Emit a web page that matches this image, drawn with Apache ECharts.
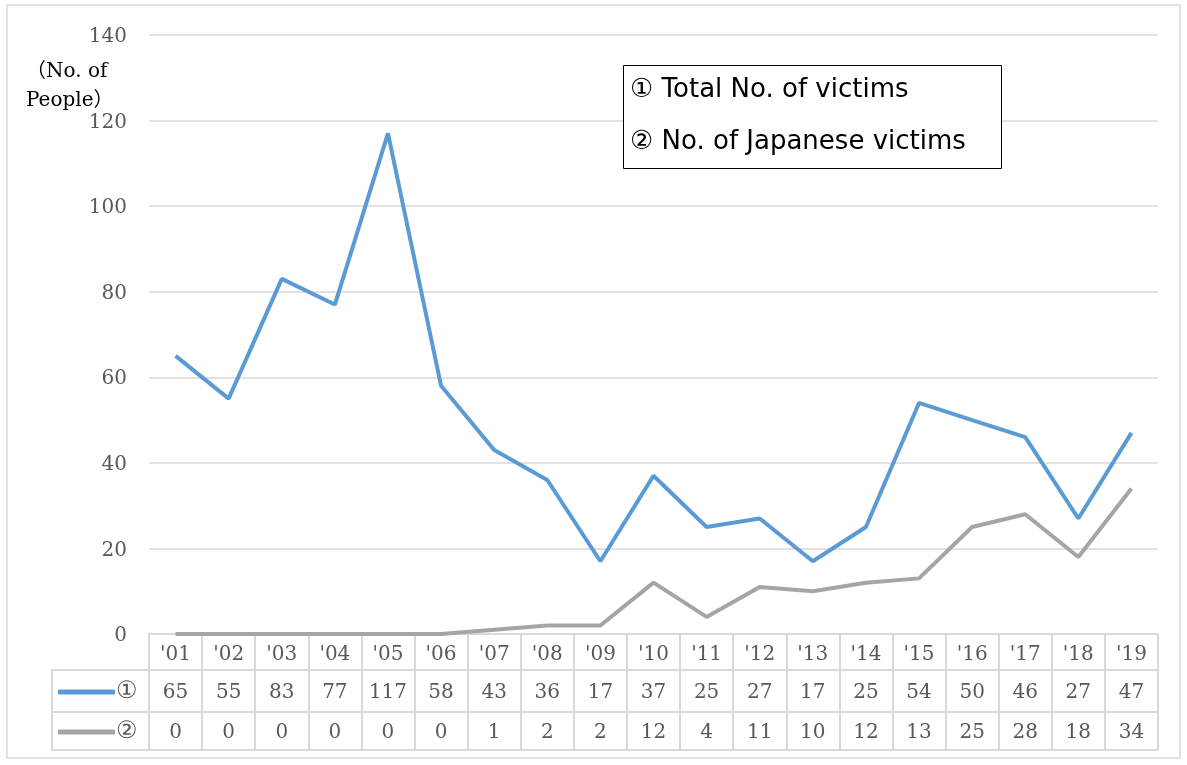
<!DOCTYPE html>
<html><head><meta charset="utf-8">
<script src="https://cdn.jsdelivr.net/npm/echarts@6/dist/echarts.min.js"></script>
<style>html,body{margin:0;padding:0;background:#fff}#c{width:1187px;height:765px}</style>
</head><body><div id="c"></div>
<script>
const years = ["'01","'02","'03","'04","'05","'06","'07","'08","'09","'10","'11","'12","'13","'14","'15","'16","'17","'18","'19"];
const totalVictims = [65,55,83,77,117,58,43,36,17,37,25,27,17,25,54,50,46,27,47];
const japaneseVictims = [0,0,0,0,0,0,1,2,2,12,4,11,10,12,13,25,28,18,34];
const seriesKeys = ['①','②'];
const legendLines = ['① Total No. of victims','② No. of Japanese victims'];
const yTicks = {min:0,max:140,interval:20};

const serif = "'DejaVu Serif','Liberation Serif',serif";
const gridCol = '#d9d9d9';
const txtCol = '#595959';
const chart = echarts.init(document.getElementById('c'));

function rowAxis(data, offset, margin, showLabels){
  return {
    type:'category', data:data, position:'bottom', offset:offset, gridIndex:0,
    axisLine:{show:true, lineStyle:{color:gridCol, width:2}},
    axisTick:{show:false},
    axisLabel:{show:showLabels, margin:margin, interval:0, fontFamily:serif, fontSize:20, color:txtCol},
    splitLine:{show:false}
  };
}

chart.setOption({
  animation:false,
  grid:{left:149, right:29, top:35, bottom:131, containLabel:false},
  xAxis:[
    {type:'category', data:years, boundaryGap:true,
     axisLine:{show:true, lineStyle:{color:gridCol, width:2}},
     axisTick:{show:true, length:116, alignWithLabel:false, interval:0, lineStyle:{color:gridCol, width:2}},
     axisLabel:{margin:11, interval:0, fontFamily:serif, fontSize:20, color:txtCol}},
    rowAxis(totalVictims.map(String), 36, 13, true),
    rowAxis(japaneseVictims.map(String), 78, 11, true),
    rowAxis(years, 116, 0, false)
  ],
  yAxis:{type:'value', min:yTicks.min, max:yTicks.max, interval:yTicks.interval,
    axisLine:{show:false}, axisTick:{show:false},
    axisLabel:{margin:22, formatter:v => '{t|' + v + '}',
      rich:{t:{fontFamily:serif, fontSize:20, color:txtCol, padding:[4,0,0,0]}}},
    splitLine:{lineStyle:{color:gridCol, width:1.5}}},
  legend:{orient:'vertical', left:58, top:680, padding:0, itemGap:16,
    itemWidth:57, itemHeight:5, icon:'roundRect', itemStyle:{borderWidth:0},
    textStyle:{fontFamily:serif, fontSize:24, color:txtCol, padding:[0,0,0,-4]},
    data:seriesKeys},
  series:[
    {name:seriesKeys[0], type:'line', data:totalVictims, showSymbol:false, symbol:'none',
     lineStyle:{color:'#5b9bd5', width:4}, itemStyle:{color:'#5b9bd5'}},
    {name:seriesKeys[1], type:'line', data:japaneseVictims, showSymbol:false, symbol:'none',
     lineStyle:{color:'#a5a5a5', width:4}, itemStyle:{color:'#a5a5a5'}}
  ],
  graphic:[
    {type:'rect', shape:{x:7,y:5,width:1173,height:753}, style:{fill:'none', stroke:gridCol, lineWidth:1.5}, silent:true},
    {type:'line', shape:{x1:52,y1:670,x2:149,y2:670}, style:{stroke:gridCol, lineWidth:2}},
    {type:'line', shape:{x1:52,y1:712,x2:149,y2:712}, style:{stroke:gridCol, lineWidth:2}},
    {type:'line', shape:{x1:52,y1:750,x2:149,y2:750}, style:{stroke:gridCol, lineWidth:2}},
    {type:'line', shape:{x1:52,y1:669,x2:52,y2:751}, style:{stroke:gridCol, lineWidth:2}},
    {type:'text', left:26, top:57, style:{text:'（No. of\nPeople）', fontFamily:serif+",'Noto Sans CJK JP'", fontSize:20, lineHeight:29, fill:'#000', align:'center'}},
    {type:'rect', shape:{x:623.5,y:65.5,width:378,height:103}, style:{fill:'#fff', stroke:'#000', lineWidth:1}, z:10},
    {type:'text', left:630, top:64, z:11, style:{text:legendLines.join('\n'), fontFamily:"'DejaVu Sans','Noto Sans',sans-serif", fontSize:26, lineHeight:52, fill:'#000'}}
  ]
});
</script></body></html>
